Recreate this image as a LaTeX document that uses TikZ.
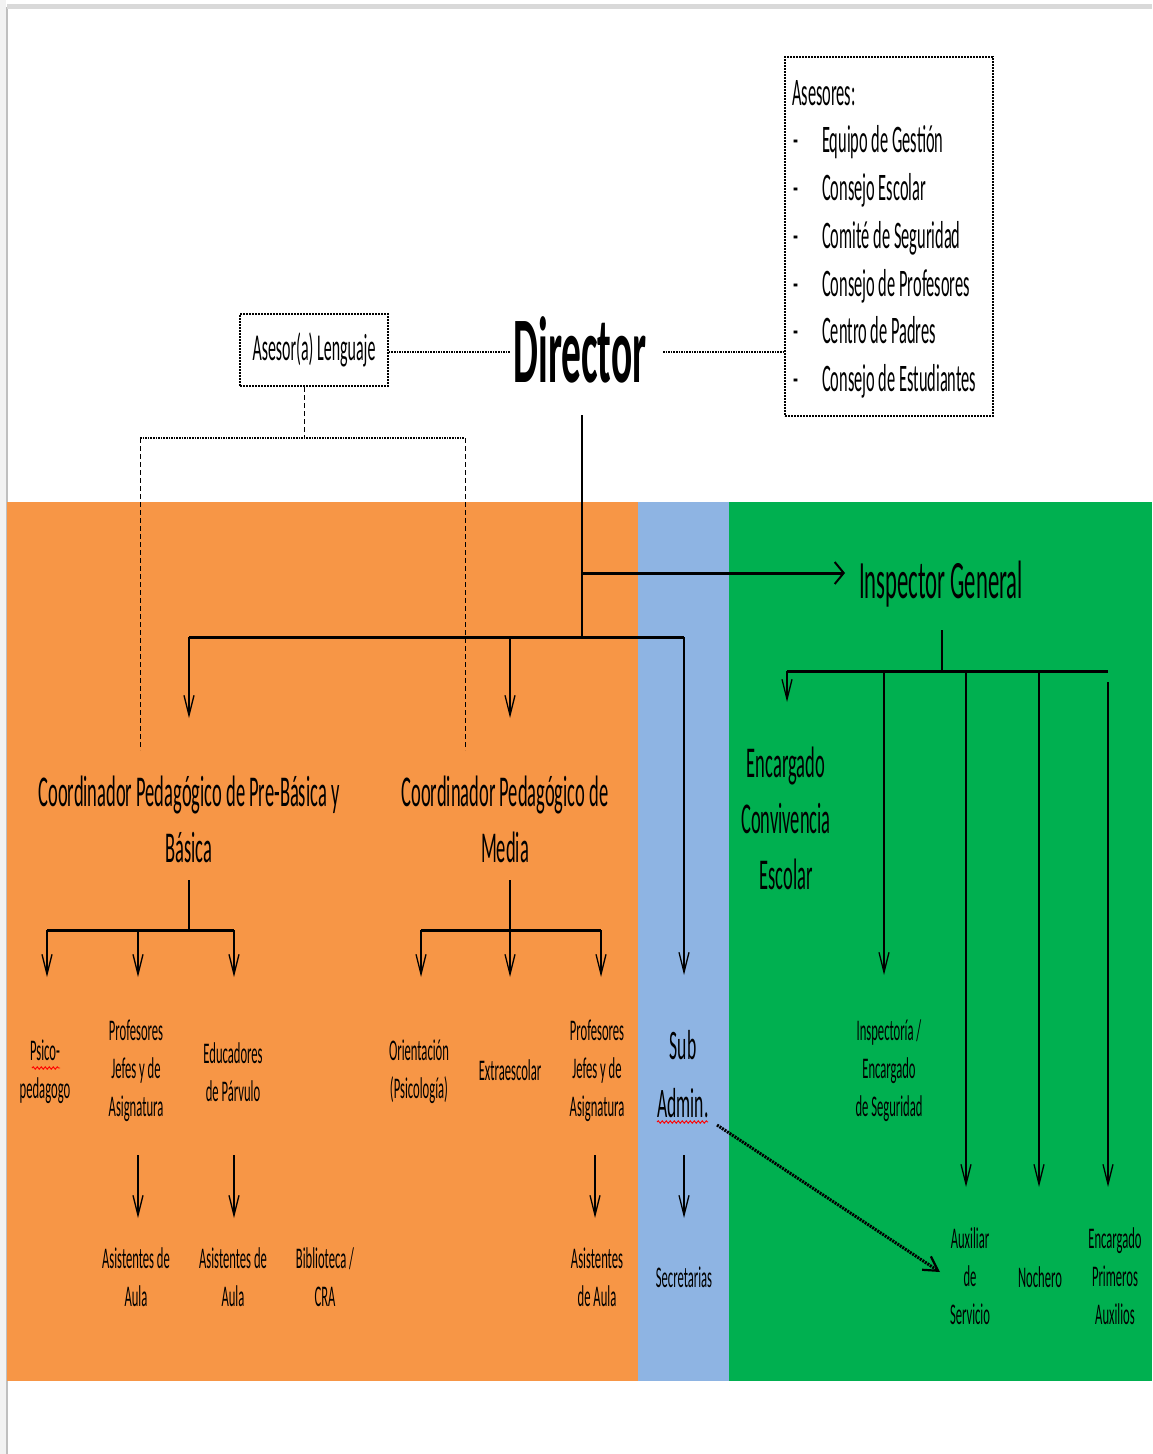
\documentclass[tikz,border=0pt]{standalone}
\usepackage{fontspec}
\setmainfont{Carlito}[FakeStretch=0.42]
\usetikzlibrary{arrows.meta,decorations.pathmorphing}
\definecolor{orng}{HTML}{F79646}
\definecolor{blu}{HTML}{8EB4E3}
\definecolor{grn}{HTML}{00B050}
\begin{document}
\begin{tikzpicture}[x=1pt,y=-1pt,
  vline/.style={line width=1.3pt},
  hbar/.style={line width=3pt},
  varr/.style={line width=1.3pt,-{Straight Barb[length=20pt,width=10pt,line width=1.3pt]}},
  harr/.style={line width=3pt,-{Straight Barb[length=9pt,width=22pt,line width=2pt]}},
  diagarr/.style={line width=3pt,dash pattern=on 2pt off 1pt,-{Straight Barb[length=14pt,width=16pt,line width=2.2pt]}},
  dotl/.style={line width=2.6pt,dash pattern=on 1.6pt off 1pt},
  dashv/.style={line width=1pt,dash pattern=on 5pt off 3pt},
  lbl/.style={align=center,inner sep=0pt,font=\fontsize{30}{38}\selectfont},
  big/.style={align=center,inner sep=0pt,font=\fontsize{44}{56}\selectfont},
  item/.style={anchor=base west,inner sep=0pt,font=\fontsize{39}{48}\selectfont},
  squig/.style={red,line width=0.9pt,decorate,decoration={snake,segment length=4pt,amplitude=1.2pt}}
]
\useasboundingbox (0,0) rectangle (1152,1454);
\fill[white] (0,0) rectangle (1152,1454);
% page frame
\fill[black!5] (0,0) rectangle (6,1454);
\draw[black!25,line width=1.5pt] (7,7) -- (7,1454);
\fill[black!15] (7,4) rectangle (1152,9);
% bands
\fill[orng] (7,502) rectangle (638,1381);
\fill[blu] (638,502) rectangle (729,1381);
\fill[grn] (729,502) rectangle (1152,1381);

% top part
\node[inner sep=0pt,font=\bfseries\fontsize{94}{110}\selectfont] (director) at (580,350) {Director};
\node[draw,dash pattern=on 2pt off 1pt,line width=1.6pt,minimum width=148pt,minimum height=72pt,inner sep=0pt,font=\fontsize{38}{44}\selectfont] (asesorL) at (314,350) {Asesor(a) Lenguaje};
\node[draw,dash pattern=on 2pt off 1pt,line width=1.6pt,minimum width=208pt,minimum height=359pt,inner sep=0pt] (asesores) at (889,236.5) {};
\node[item] (as0) at (792,105) {Asesores:};
\node[item] (b1) at (793,152) {-};
\node[item] (b2) at (793,200) {-};
\node[item] (b3) at (793,248) {-};
\node[item] (b4) at (793,296) {-};
\node[item] (b5) at (793,343) {-};
\node[item] (b6) at (793,391) {-};
\node[item] (i1) at (822,152) {Equipo de Gestión};
\node[item] (i2) at (822,200) {Consejo Escolar};
\node[item] (i3) at (822,248) {Comité de Seguridad};
\node[item] (i4) at (822,296) {Consejo de Profesores};
\node[item] (i5) at (822,343) {Centro de Padres};
\node[item] (i6) at (822,391) {Consejo de Estudiantes};

\draw[dotl] (asesorL.east |- 0,352) -- (510,352);
\draw[dotl] (663,352) -- (asesores.west |- 0,352);

% asesor lenguaje branch
\coordinate (alb) at (304,387);
\coordinate (alj) at (304,438);
\coordinate (al1) at (140,438);
\coordinate (al2) at (465,438);
\coordinate (al1e) at (140,750);
\coordinate (al2e) at (465,750);
\draw[dashv] (alb) -- (alj);
\draw[dotl] (al1) -- (al2);
\draw[dashv] (al1) -- (al1e);
\draw[dashv] (al2) -- (al2e);

% director branch
\coordinate (dtop) at (582,415);
\coordinate (dj) at (582,637);
\coordinate (dig) at (582,573);
\node[inner sep=0pt,font=\fontsize{54}{64}\selectfont] (ig) at (941,584) {Inspector General};
\coordinate (igin) at (845,573);
\draw[vline] (dtop) -- (dj);
\draw[harr] (dig) -- (igin);

\coordinate (b1l) at (189,637);
\coordinate (b1m) at (510,637);
\coordinate (b1r) at (684,637);
\draw[hbar] (b1l) -- (b1r);

\node[big] (cpb) at (189,819) {Coordinador Pedagógico de Pre-Básica y\\Básica};
\node[big] (cm) at (505,819) {Coordinador Pedagógico de\\Media};
\node[inner sep=0pt,align=center,font=\fontsize{42}{58}\selectfont] (sub) at (683,1074) {Sub\\Admin.};
\draw[varr] (b1l) -- (189,718);
\draw[varr] (b1m) -- (510,718);
\draw[varr] (b1r) -- (684,975);

% row 1 labels
\node[lbl] (psico) at (45,1072) {Psico-\\pedagogo};
\node[lbl] (prof1) at (136,1071) {Profesores\\Jefes y de\\Asignatura};
\node[lbl] (educ) at (233,1072) {Educadores\\de Párvulo};
\node[lbl] (orient) at (419,1072) {Orientación\\(Psicología)};
\node[lbl] (extra) at (510,1070) {Extraescolar};
\node[lbl] (prof2) at (597,1071) {Profesores\\Jefes y de\\Asignatura};
\node[lbl] (insp) at (889,1071) {Inspectoría /\\Encargado\\de Seguridad};
\node[big] (conv) at (786,818) {Encargado\\Convivencia\\Escolar};

% pre-basica branch
\coordinate (c1a) at (189,880);
\coordinate (c1j) at (189,930);
\coordinate (c1l) at (47,930);
\coordinate (c1m) at (138,930);
\coordinate (c1r) at (234,930);
\draw[vline] (c1a) -- (c1j);
\draw[hbar] (c1l) -- (c1r);
\draw[varr] (c1l) -- (47,977);
\draw[varr] (c1m) -- (138,977);
\draw[varr] (c1r) -- (234,977);

% media branch
\coordinate (c2a) at (510,880);
\coordinate (c2l) at (421,930);
\coordinate (c2r) at (601,930);
\draw[hbar] (c2l) -- (c2r);
\draw[varr] (c2a) -- (510,977);
\draw[varr] (c2l) -- (421,977);
\draw[varr] (c2r) -- (601,977);

% inspector branch
\coordinate (g1) at (942,630);
\coordinate (g2) at (942,671);
\coordinate (gl) at (787,671);
\coordinate (gr) at (1108,671);
\draw[vline] (g1) -- (g2);
\draw[hbar] (gl) -- (gr);
\draw[varr] (gl) -- (787,702);
\draw[varr] (884,671) -- (884,975);
\draw[varr] (966,671) -- (966,1187);
\draw[varr] (1039,671) -- (1039,1187);
\draw[varr] (1108,682) -- (1108,1187);

% row 2 arrows
\draw[varr] (138,1155) -- (138,1218);
\draw[varr] (234,1155) -- (234,1218);
\draw[varr] (595,1155) -- (595,1218);
\draw[varr] (684,1155) -- (684,1218);

% row 2 labels
\node[lbl] (asis1) at (136,1277) {Asistentes de\\Aula};
\node[lbl] (asis2) at (233,1277) {Asistentes de\\Aula};
\node[lbl] (biblio) at (325,1277) {Biblioteca /\\CRA};
\node[lbl] (asis3) at (597,1277) {Asistentes\\de Aula};
\node[lbl] (secr) at (684,1277) {Secretarias};
\node[lbl] (aux) at (970,1276) {Auxiliar\\de\\Servicio};
\node[lbl] (noch) at (1040,1277) {Nochero};
\node[lbl] (encp) at (1115,1276) {Encargado\\Primeros\\Auxilios};

% diagonal
\coordinate (dgs) at (717,1125);
\coordinate (dge) at (940,1272);
\draw[diagarr] (dgs) -- (dge);

% spell-check marks
\draw[squig] (32,1068) -- (60,1068);
\draw[squig] (657,1122) -- (708,1122);
\end{tikzpicture}
\end{document}
